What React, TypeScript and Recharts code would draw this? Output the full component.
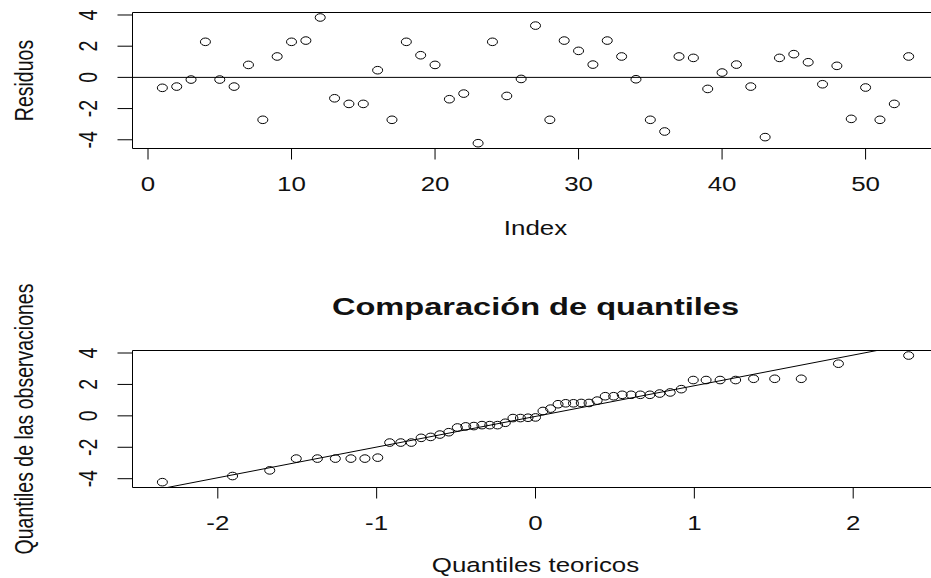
import { ScatterChart, Scatter, XAxis, YAxis, ReferenceLine, ReferenceArea } from 'recharts'

const residuos = [
  -0.67, -0.59, -0.14, 2.28, -0.14, -0.59, 0.8, -2.72, 1.34, 2.28,
  2.36, 3.84, -1.34, -1.7, -1.7, 0.46, -2.72, 2.28, 1.42, 0.8,
  -1.4, -1.04, -4.22, 2.28, -1.19, -0.1, 3.32, -2.72, 2.36, 1.7,
  0.82, 2.36, 1.34, -0.12, -2.72, -3.47, 1.34, 1.25, -0.74, 0.31,
  0.82, -0.59, -3.83, 1.25, 1.49, 0.97, -0.44, 0.74, -2.66, -0.65,
  -2.72, -1.7, 1.34,
]
const indexTicks = [0, 10, 20, 30, 40, 50]
const yTicks = [-4, -2, 0, 2, 4]

// grafico Q-Q
const teoricos = [
  -2.349, -1.907, -1.673, -1.506, -1.373, -1.26, -1.162, -1.074, -0.993, -0.918,
  -0.848, -0.782, -0.72, -0.66, -0.602, -0.546, -0.492, -0.439, -0.388, -0.337,
  -0.288, -0.239, -0.19, -0.142, -0.095, -0.047, 0, 0.047, 0.095, 0.142,
  0.19, 0.239, 0.288, 0.337, 0.388, 0.439, 0.492, 0.546, 0.602, 0.66,
  0.72, 0.782, 0.848, 0.918, 0.993, 1.074, 1.162, 1.26, 1.373, 1.506,
  1.673, 1.907, 2.349,
]
const observados = [
  -4.22, -3.83, -3.47, -2.72, -2.72, -2.72, -2.72, -2.72, -2.66, -1.7,
  -1.7, -1.7, -1.4, -1.34, -1.19, -1.04, -0.74, -0.67, -0.65, -0.59,
  -0.59, -0.59, -0.44, -0.14, -0.14, -0.12, -0.1, 0.31, 0.46, 0.74,
  0.8, 0.8, 0.82, 0.82, 0.97, 1.25, 1.25, 1.34, 1.34, 1.34,
  1.34, 1.42, 1.49, 1.7, 2.28, 2.28, 2.28, 2.28, 2.36, 2.36,
  2.36, 3.32, 3.84,
]
const qqTicks = [-2, -1, 0, 1, 2]
const qqLineX = [-2.6, 2.6]
const qqLineY = [-5.11, 5.04]

const FONT = 'Arial, "Liberation Sans", sans-serif'
const SX = 1.33
const INK = '#111'
const Y_DOMAIN = [-4.56, 4.16]

const resData = residuos.map((y, i) => ({ x: i + 1, y }))
const qqData = teoricos.map((x, i) => ({ x, y: observados[i] }))

function Dot(p: any) {
  return <ellipse cx={p.cx} cy={p.cy} rx={5} ry={3.8} fill="none" stroke="#000" strokeWidth={1} />
}

function XTick(p: any) {
  return (
    <g transform={`translate(${p.x},${p.y + 31.5}) scale(${SX},1)`}>
      <text textAnchor="middle" fontFamily={FONT} fontSize={19.5} fill={INK}>{p.payload.value}</text>
    </g>
  )
}

function YTick(p: any) {
  return (
    <g transform={`translate(${p.x - 20.7},${p.y}) scale(${SX},1) rotate(-90)`}>
      <text textAnchor="middle" fontFamily={FONT} fontSize={19.5} fill={INK}>{p.payload.value}</text>
    </g>
  )
}

// recharts pisa x/y del label, por eso px/py
function HText({ px, py, text, size = 19.5, bold = false }: any) {
  return (
    <g transform={`translate(${px},${py}) scale(${SX},1)`}>
      <text textAnchor="middle" fontFamily={FONT} fontSize={size} fontWeight={bold ? 'bold' : 'normal'} fill={INK}>{text}</text>
    </g>
  )
}

function VText({ px, py, text }: any) {
  return (
    <g transform={`translate(${px},${py}) scale(${SX},1) rotate(-90)`}>
      <text textAnchor="middle" fontFamily={FONT} fontSize={19.5} fill={INK}>{text}</text>
    </g>
  )
}

export default function App() {
  return (
    <div style={{ position: 'absolute', left: 0, top: 0, width: 931, height: 578, overflow: 'hidden', background: '#fff' }}>
      <div style={{ width: 945 }}>
        <ScatterChart width={945} height={250} margin={{ top: 12.5, right: 6.5, bottom: 0, left: 0 }}>
          <XAxis
            type="number" dataKey="x" domain={[-1.08, 55.08]} ticks={indexTicks} allowDataOverflow
            height={101.5} axisLine={false} stroke="#000" tickSize={11} tickMargin={0} tick={<XTick />}
            label={<HText px={535.5} py={235} text="Index" />}
          />
          <YAxis
            type="number" dataKey="y" domain={Y_DOMAIN} ticks={yTicks} allowDataOverflow
            width={132.5} axisLine={false} stroke="#000" tickSize={15} tickMargin={0} tick={<YTick />}
            label={<VText px={33} py={80.5} text="Residuos" />}
          />
          <ReferenceArea x1={-1.08} x2={55.08} y1={Y_DOMAIN[0]} y2={Y_DOMAIN[1]} fill="none" stroke="#000" strokeWidth={1} ifOverflow="visible" />
          <ReferenceLine y={0} stroke="#000" strokeWidth={1} />
          <Scatter data={resData} shape={<Dot />} isAnimationActive={false} />
        </ScatterChart>

        <ScatterChart width={945} height={328} margin={{ top: 100.5, right: 6.5, bottom: 0, left: 0 }}>
          <XAxis
            type="number" dataKey="x" domain={[-2.537, 2.537]} ticks={qqTicks} allowDataOverflow
            height={90.5} axisLine={false} stroke="#000" tickSize={11} tickMargin={0} tick={<XTick />}
            label={<HText px={535.5} py={322} text="Quantiles teoricos" />}
          />
          <YAxis
            type="number" dataKey="y" domain={Y_DOMAIN} ticks={yTicks} allowDataOverflow
            width={132.5} axisLine={false} stroke="#000" tickSize={15} tickMargin={0} tick={<YTick />}
            label={<VText px={33} py={169} text="Quantiles de las observaciones" />}
          />
          <ReferenceArea
            x1={-2.537} x2={2.537} y1={Y_DOMAIN[0]} y2={Y_DOMAIN[1]} fill="none" stroke="#000" strokeWidth={1} ifOverflow="visible"
            label={<HText px={535.5} py={65} text="Comparación de quantiles" size={24.5} bold />}
          />
          <ReferenceLine
            segment={[{ x: qqLineX[0], y: qqLineY[0] }, { x: qqLineX[1], y: qqLineY[1] }]}
            stroke="#000" strokeWidth={1} ifOverflow="hidden"
          />
          <Scatter data={qqData} shape={<Dot />} isAnimationActive={false} />
        </ScatterChart>
      </div>
    </div>
  )
}
